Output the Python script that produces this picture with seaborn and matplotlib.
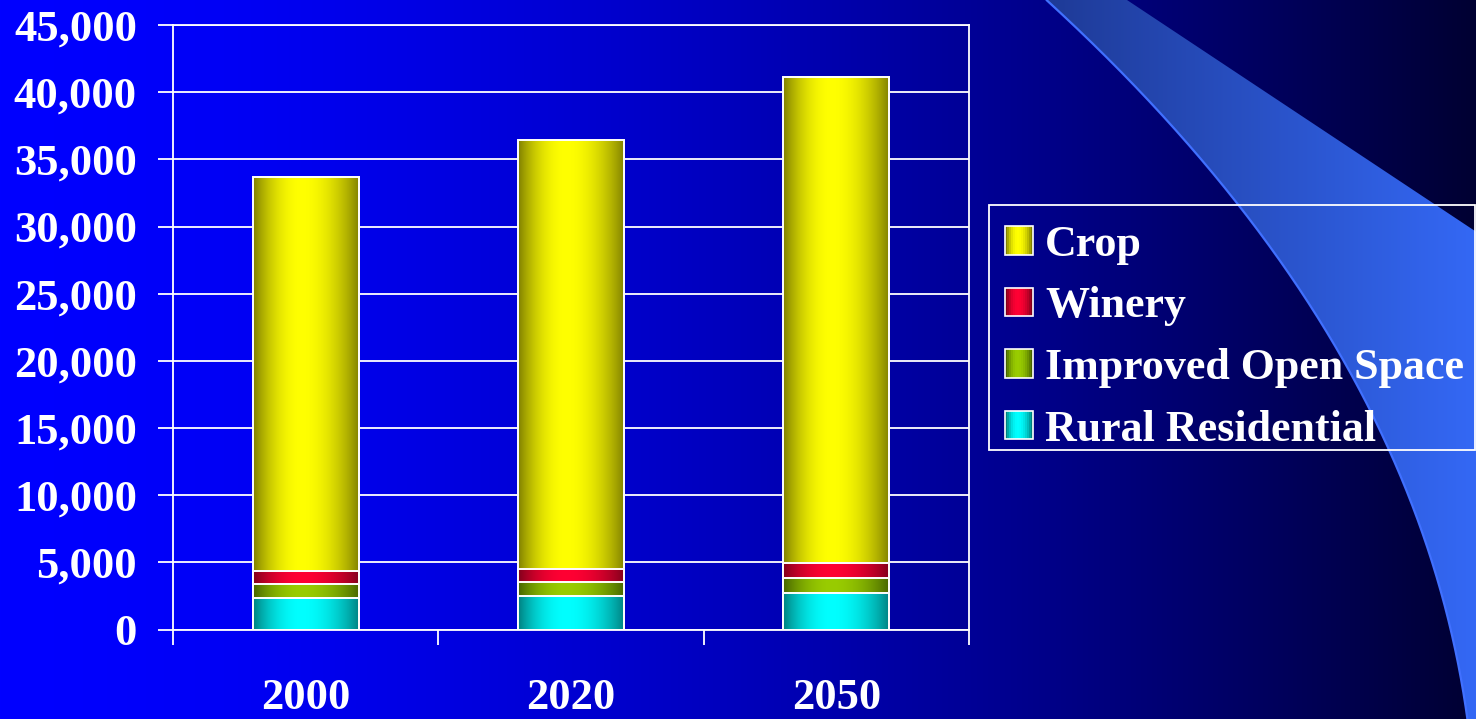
import numpy as np
import pandas as pd
import matplotlib
matplotlib.use("Agg")
import matplotlib.pyplot as plt
import seaborn as sns
from matplotlib.patches import Polygon, Rectangle
from matplotlib.legend_handler import HandlerBase
from matplotlib.ticker import FuncFormatter

# ---- data (acres by land use) ----
years = ["2000", "2020", "2050"]
rural_residential = [2330, 2460, 2730]
improved_open_space = [1070, 1080, 1090]
winery = [990, 970, 1140]
crop = [29280, 31900, 36140]

series_names = ["Rural Residential", "Improved Open Space", "Winery", "Crop"]
series_values = [rural_residential, improved_open_space, winery, crop]

# dark edge / bright centre colours for the shaded bars
shades = {
    "Crop": ((128, 128, 0), (255, 255, 0)),
    "Winery": ((128, 0, 28), (255, 0, 51)),
    "Improved Open Space": ((70, 100, 0), (153, 204, 0)),
    "Rural Residential": ((0, 128, 128), (0, 255, 255)),
}

sns.set_style("ticks")
plt.rcParams["font.family"] = ["Liberation Serif", "DejaVu Serif"]
plt.rcParams["font.weight"] = "bold"
FS = 32

W, H = 1476, 719
fig = plt.figure(figsize=(W / 100, H / 100), dpi=100)


def shade_profile(n=256, peak=0.45):
    t = np.linspace(0, 1, n)
    d = np.where(t < peak, (peak - t) / peak, (t - peak) / (1 - peak))
    return 1 - d ** 2


def shade_row(dark, bright, n=256):
    s = shade_profile(n)[:, None]
    dark = np.array(dark) / 255.0
    bright = np.array(bright) / 255.0
    return (dark + (bright - dark) * s)[None, :, :]


# ---- slide background ----
bg = fig.add_axes([0, 0, 1, 1], zorder=-10)
bg.set_xlim(0, W)
bg.set_ylim(H, 0)
bg.axis("off")
t = np.linspace(0, 1, 512)
blue = (255 - 205 * t ** 1.6) / 255.0
grad = np.zeros((1, 512, 3))
grad[0, :, 2] = blue
bg.imshow(grad, extent=[0, W, H, 0], aspect="auto", interpolation="bilinear")

# curved light-blue swoosh on the right
curve_y = np.array([0, 50, 117, 200, 240, 340, 450, 540, 640, 719])
curve_x = np.array([1045, 1100, 1167, 1233, 1263, 1333, 1387, 1427, 1453, 1467])
coef = np.polyfit(curve_y, curve_x, 3)
yy = np.linspace(0, H, 300)
xx = np.polyval(coef, yy)
pts = list(zip(xx, yy)) + [(W + 2, H), (W + 2, 233), (1127, 0)]
swoosh = Polygon(pts, closed=True, facecolor="none", edgecolor="none")
bg.add_patch(swoosh)
sg = np.zeros((1, 256, 3))
ts = np.linspace(0, 1, 256)
sg[0, :, 0] = (30 + 22 * ts) / 255
sg[0, :, 1] = (58 + 46 * ts) / 255
sg[0, :, 2] = (150 + 95 * ts) / 255
im = bg.imshow(sg, extent=[1045, W, H, 0], aspect="auto", interpolation="bilinear")
im.set_clip_path(swoosh)
bg.plot(xx, yy, color="#4070ff", lw=1.6)
# legend box outline
bg.add_patch(Rectangle((989, 205), 1475 - 989, 450 - 205, facecolor="none",
                       edgecolor="white", lw=1.3, zorder=5))
bg.set_xlim(0, W)
bg.set_ylim(H, 0)

# ---- chart ----
ax = fig.add_axes([173 / W, (H - 629.5) / H, (969 - 173) / W, (629.5 - 25) / H])
ax.set_facecolor("none")

df = pd.DataFrame({"year": years})
cum = np.zeros(len(years))
cums = []
for name, vals in zip(series_names, series_values):
    cum = cum + np.array(vals)
    cums.append((name, cum.copy()))

# draw cumulative totals from tallest to shortest so the layers stack
layer_patches = []
for k, (name, c) in enumerate(reversed(cums)):
    df["value"] = c
    n_before = len(ax.patches)
    sns.barplot(data=df, x="year", y="value", color="white", width=0.4,
                ax=ax, errorbar=None)
    layer_patches.append((k, name, ax.patches[n_before:]))

for k, name, patches in layer_patches:
    dark, bright = shades[name]
    row = shade_row(dark, bright)
    for p in patches:
        x0, y0 = p.get_x(), p.get_y()
        w, h = p.get_width(), p.get_height()
        ax.imshow(row, extent=[x0, x0 + w, y0, y0 + h], aspect="auto",
                  interpolation="bilinear", zorder=2 + k * 0.2)
        p.set_facecolor("none")
        p.set_edgecolor("white")
        p.set_linewidth(1.4)
        p.set_zorder(2.1 + k * 0.2)

ax.set_xlim(-0.5, 2.5)
ax.set_ylim(0, 45000)
ax.set_aspect("auto")
ax.set_yticks(np.arange(0, 45001, 5000))
ax.yaxis.set_major_formatter(FuncFormatter(lambda v, _: f"{int(v):,}"))
ax.grid(axis="y", color="white", lw=1.3)
ax.grid(axis="x", visible=False)
ax.set_axisbelow(True)

ax.set_xticks([-0.5, 0.5, 1.5, 2.5])
ax.set_xticklabels([])
ax.set_xticks([0, 1, 2], minor=True)
ax.set_xticklabels(years, minor=True)
ax.tick_params(axis="x", which="major", length=11, width=1.3, color="white",
               direction="out")
ax.tick_params(axis="x", which="minor", length=0, pad=35, labelsize=FS,
               labelcolor="white")
ax.tick_params(axis="y", length=11, width=1.3, color="white", direction="out",
               pad=15, labelsize=FS, labelcolor="white")
for lab in ax.get_xticklabels(minor=True) + ax.get_yticklabels():
    lab.set_fontweight("bold")
for s in ax.spines.values():
    s.set_color("white")
    s.set_linewidth(1.3)
ax.set_xlabel("")
ax.set_ylabel("")


# legend with shaded swatches
class ShadedSwatch(HandlerBase):
    def __init__(self, dark, bright):
        super().__init__()
        self.dark, self.bright = dark, bright

    def create_artists(self, legend, orig_handle, xdescent, ydescent, width,
                       height, fontsize, trans):
        n = 14
        s = shade_profile(n)
        d = np.array(self.dark) / 255
        b = np.array(self.bright) / 255
        arts = []
        for i in range(n):
            r = Rectangle((-xdescent + i * width / n, -ydescent), width / n + 0.3,
                          height, facecolor=d + (b - d) * s[i], edgecolor="none",
                          transform=trans)
            arts.append(r)
        arts.append(Rectangle((-xdescent, -ydescent), width, height,
                              facecolor="none", edgecolor="white", lw=1.2,
                              transform=trans))
        return arts


legend_order = ["Crop", "Winery", "Improved Open Space", "Rural Residential"]
handles = [Rectangle((0, 0), 1, 1) for _ in legend_order]
hmap = {h: ShadedSwatch(*shades[n]) for h, n in zip(handles, legend_order)}
leg = fig.legend(handles, legend_order, handler_map=hmap, loc="upper left",
                 bbox_to_anchor=(989 / W, 1 - 209 / H), borderaxespad=0,
                 frameon=False, handlelength=0.63,
                 handleheight=0.63, handletextpad=0.28, borderpad=0.36,
                 labelspacing=0.49, prop={"weight": "bold", "size": 31.7})
for txt in leg.get_texts():
    txt.set_color("white")

fig.savefig("out.png", dpi=100)
